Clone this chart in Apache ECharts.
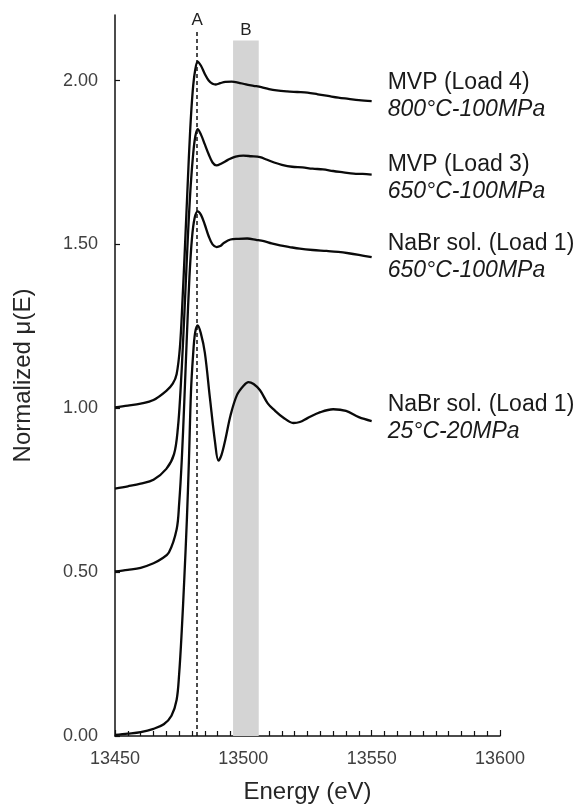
<!DOCTYPE html>
<html>
<head>
<meta charset="utf-8">
<script src="https://cdn.jsdelivr.net/npm/echarts@6/dist/echarts.min.js"></script>
<style>
  html, body { margin: 0; padding: 0; background: #fff; }
  #chart { width: 574px; height: 812px; }
</style>
</head>
<body>
<div id="chart"></div>
<script>
// series labels
var seriesNames = ['NaBr sol. (Load 1)', 'NaBr sol. (Load 1)', 'MVP (Load 3)', 'MVP (Load 4)'];
var seriesConds = ['25°C-20MPa', '650°C-100MPa', '650°C-100MPa', '800°C-100MPa'];

// NaBr sol. 25°C-20MPa (offset 0)
var energy25 = [13450, 13455, 13460, 13465, 13469, 13472, 13474, 13475, 13476, 13477, 13478, 13478.8, 13479.6, 13480.4, 13481.2, 13482.2, 13483.4, 13485, 13487, 13489, 13490.3, 13491.5, 13493, 13495, 13497.5, 13500, 13502, 13504, 13506.5, 13509.5, 13512, 13515.5, 13519.5, 13522, 13525, 13530, 13535, 13540, 13545, 13550];
var mu25 = [0.003, 0.007, 0.012, 0.022, 0.036, 0.062, 0.11, 0.19, 0.32, 0.48, 0.66, 0.84, 1.05, 1.16, 1.23, 1.253, 1.23, 1.17, 1.03, 0.895, 0.840, 0.858, 0.905, 0.978, 1.04, 1.068, 1.08, 1.074, 1.055, 1.015, 0.995, 0.972, 0.955, 0.958, 0.97, 0.988, 0.997, 0.992, 0.973, 0.961];

// NaBr sol. 650°C-100MPa (offset 0.5)
var energy650 = [13450, 13455, 13460, 13465, 13468, 13471, 13474, 13475, 13476, 13477, 13478, 13479, 13480, 13481, 13482.2, 13483.5, 13485, 13486.5, 13488, 13489.6, 13491, 13492.5, 13495, 13498, 13501.5, 13505, 13508, 13511, 13514.3, 13518, 13522, 13527, 13532.5, 13537, 13541, 13545, 13550];
var mu650 = [0.502, 0.507, 0.513, 0.527, 0.54, 0.56, 0.63, 0.71, 0.84, 1.02, 1.22, 1.40, 1.52, 1.58, 1.601, 1.59, 1.56, 1.525, 1.50, 1.492, 1.495, 1.505, 1.515, 1.517, 1.518, 1.514, 1.51, 1.503, 1.497, 1.492, 1.487, 1.483, 1.48, 1.477, 1.473, 1.468, 1.461];

// MVP Load 3, 650°C-100MPa (offset 0.75)
var energyL3 = [13450, 13455, 13460, 13465, 13470, 13473, 13474.5, 13475.5, 13476.5, 13477.5, 13478.5, 13479.5, 13480.5, 13481.3, 13482.2, 13483.5, 13485, 13486.5, 13488, 13489.5, 13491.5, 13494, 13497, 13500, 13503, 13506.5, 13509, 13512, 13515, 13519, 13523, 13527, 13531, 13535, 13539, 13543, 13546.5, 13550];
var muL3 = [0.755, 0.762, 0.77, 0.782, 0.815, 0.86, 0.94, 1.05, 1.20, 1.37, 1.54, 1.68, 1.78, 1.83, 1.852, 1.835, 1.805, 1.775, 1.75, 1.741, 1.747, 1.758, 1.768, 1.771, 1.769, 1.766, 1.759, 1.75, 1.743, 1.737, 1.735, 1.731, 1.729, 1.724, 1.72, 1.716, 1.715, 1.713];

// MVP Load 4, 800°C-100MPa (offset 1.0)
var energyL4 = [13450, 13455, 13460, 13465, 13470, 13472.5, 13474, 13475.3, 13476.3, 13477.3, 13478.3, 13479.3, 13480.3, 13481.2, 13482.2, 13483.5, 13485, 13486.5, 13488, 13489.3, 13491, 13493, 13495.5, 13498, 13501, 13504, 13507, 13510, 13513, 13517, 13521, 13525, 13529, 13533, 13537, 13541, 13545, 13550];
var muL4 = [1.003, 1.008, 1.014, 1.025, 1.053, 1.075, 1.104, 1.187, 1.33, 1.50, 1.68, 1.85, 1.97, 2.03, 2.058, 2.045, 2.02, 2.0, 1.99, 1.988, 1.992, 1.996, 1.997, 1.994, 1.988, 1.984, 1.98, 1.974, 1.97, 1.967, 1.965, 1.963, 1.958, 1.953, 1.948, 1.944, 1.94, 1.937];

// axis ticks, feature A and band B
var yTicks = [0, 0.5, 1, 1.5, 2];
var featureA = 13482;
var bandB = [13496, 13506];

var FONT = '"Liberation Sans", Arial, sans-serif';

function pairs(xs, ys) {
    var out = [];
    for (var i = 0; i < xs.length; i++) out.push([xs[i], ys[i]]);
    return out;
}

function makeSeries(idx, xs, ys, shift) {
    return {
        name: seriesNames[idx] + ' ' + seriesConds[idx],
        type: 'line',
        data: pairs(xs, ys),
        smooth: 0.35,
        showSymbol: false,
        symbol: 'none',
        lineStyle: { color: '#0a0a0a', width: 2.3 },
        endLabel: {
            show: true,
            distance: 16,
            offset: [0, shift],
            formatter: function () {
                return '{n|' + seriesNames[idx] + '}\n{c|' + seriesConds[idx] + '}';
            },
            rich: {
                n: { fontFamily: FONT, fontSize: 23, color: '#1a1a1a', lineHeight: 27 },
                c: { fontFamily: FONT, fontSize: 23, fontStyle: 'italic', color: '#1a1a1a', lineHeight: 27 }
            }
        }
    };
}

var s0 = makeSeries(0, energy25, mu25, -3);
s0.markLine = {
    silent: true,
    symbol: 'none',
    lineStyle: { color: '#111', type: [4, 3], width: 1.5 },
    label: { show: true, position: 'end', formatter: 'A', fontFamily: FONT, fontSize: 17, color: '#222', distance: 3 },
    data: [[{ coord: [featureA, 0] }, { coord: [featureA, 2.15] }]]
};
s0.markArea = {
    silent: true,
    itemStyle: { color: '#d4d4d4' },
    label: { show: true, position: 'top', formatter: 'B', fontFamily: FONT, fontSize: 17, color: '#222', distance: 2 },
    data: [[{ coord: [bandB[0], 0] }, { coord: [bandB[1], 2.122] }]]
};

var chart = echarts.init(document.getElementById('chart'));
chart.setOption({
    animation: false,
    backgroundColor: '#fff',
    grid: { left: 115, right: 74, top: 15, bottom: 76, containLabel: false },
    xAxis: {
        type: 'value',
        min: 13450,
        max: 13600,
        interval: 50,
        name: 'Energy (eV)',
        nameLocation: 'middle',
        nameGap: 44,
        nameTextStyle: { fontFamily: FONT, fontSize: 24, color: '#262626' },
        axisLine: { lineStyle: { color: '#111', width: 1.5 } },
        axisTick: { show: true, inside: true, length: 6, lineStyle: { color: '#111', width: 1.2 } },
        minorTick: { show: true, splitNumber: 10, length: 5, lineStyle: { color: '#111', width: 1.2 } },
        axisLabel: {
            fontFamily: FONT, fontSize: 18, color: '#404040', margin: 14,
            formatter: function (v) { return String(v); }
        },
        splitLine: { show: false }
    },
    yAxis: {
        type: 'value',
        min: 0,
        max: 2.2,
        name: 'Normalized μ(E)',
        nameLocation: 'middle',
        nameGap: 80,
        nameRotate: 90,
        nameTextStyle: { fontFamily: FONT, fontSize: 24, color: '#262626' },
        axisLine: { show: true, lineStyle: { color: '#111', width: 1.5 } },
        axisTick: { show: true, inside: true, length: 5, customValues: yTicks, lineStyle: { color: '#111', width: 1.2 } },
        axisLabel: {
            fontFamily: FONT, fontSize: 18, color: '#404040', margin: 17,
            customValues: yTicks,
            formatter: function (v) { return v.toFixed(2); }
        },
        splitLine: { show: false }
    },
    series: [
        s0,
        makeSeries(1, energy650, mu650, 0),
        makeSeries(2, energyL3, muL3, 4),
        makeSeries(3, energyL4, muL4, -5)
    ]
});
</script>
</body>
</html>
